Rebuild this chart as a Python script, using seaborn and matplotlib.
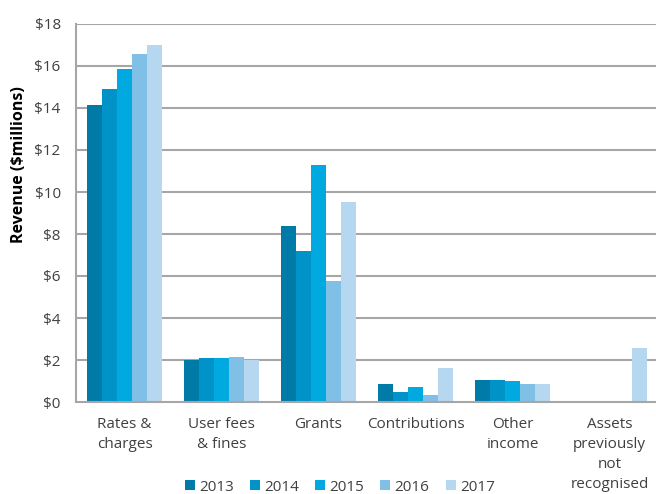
import matplotlib
matplotlib.use("Agg")
import matplotlib.pyplot as plt
import seaborn as sns
import pandas as pd
import numpy as np
from matplotlib.ticker import FixedLocator

categories = ["Rates &\ncharges", "User fees\n& fines", "Grants", "Contributions",
              "Other\nincome", "Assets\npreviously\nnot\nrecognised"]
years = ["2013", "2014", "2015", "2016", "2017"]
v2013 = [14.14, 2.00, 8.38, 0.86, 1.05, 0.0]
v2014 = [14.90, 2.10, 7.19, 0.46, 1.03, 0.0]
v2015 = [15.86, 2.10, 11.29, 0.70, 0.98, 0.0]
v2016 = [16.57, 2.15, 5.76, 0.33, 0.86, 0.0]
v2017 = [17.00, 1.98, 9.52, 1.62, 0.86, 2.57]
colors = ["#007BA7", "#0093C8", "#00A9E0", "#80C0E7", "#B5D7F0"]

series = [v2013, v2014, v2015, v2016, v2017]
rows = []
for y, vals in zip(years, series):
    for c, v in zip(categories, vals):
        rows.append({"category": c, "year": y, "value": v})
df = pd.DataFrame(rows)

sns.set_style("white")
plt.rcParams["font.family"] = ["Open Sans", "DejaVu Sans"]

fig = plt.figure(figsize=(6.56, 4.94), dpi=100)
ax = fig.add_axes([76/656, 1-402/494, 582/656, 378/494])

sns.barplot(data=df, x="category", y="value", hue="year", palette=colors,
            width=0.77, saturation=1, ax=ax, legend=True, linewidth=0)

grid_c = "#a6a6a6"
txt_c = "#404040"
ax.set_ylim(0, 18)
ax.set_xlim(-0.5, 5.5)
ax.set_yticks(np.arange(0, 19, 2))
ax.set_yticklabels([f"\\${int(t)}" for t in np.arange(0, 19, 2)], fontsize=11, color=txt_c)
for t in np.arange(2, 19, 2):
    ax.axhline(t, color=grid_c, lw=1.5, zorder=0)
ax.set_axisbelow(True)

ax.xaxis.set_minor_locator(FixedLocator(np.arange(-0.5, 6, 1)))
ax.tick_params(axis="x", which="major", length=0, pad=11, labelsize=11, labelcolor=txt_c)
ax.tick_params(axis="x", which="minor", length=7, width=1.5, color=grid_c, direction="out")
ax.tick_params(axis="y", which="major", length=7, width=1.5, color=grid_c, direction="out", pad=4)
for lab in ax.get_xticklabels():
    lab.set_linespacing(1.45)

for s in ["top", "right"]:
    ax.spines[s].set_visible(False)
for s in ["left", "bottom"]:
    ax.spines[s].set_color(grid_c)
    ax.spines[s].set_linewidth(1.5)

ax.set_xlabel("")
ax.set_ylabel("Revenue (\\$millions)", fontsize=11.5, fontweight="bold", color="black")
ax.yaxis.set_label_coords((27-76)/582, (402-165)/378)

leg = ax.get_legend()
handles, labels = ax.get_legend_handles_labels()
leg.remove()
fig.legend(handles, labels, loc="center", bbox_to_anchor=(340/656, 1-487/494), ncol=5,
           frameon=False, handlelength=0.65, handleheight=0.65, handletextpad=0.28,
           columnspacing=1.05, fontsize=11, labelcolor=txt_c, borderpad=0.1)

fig.savefig("out.png", dpi=100)
